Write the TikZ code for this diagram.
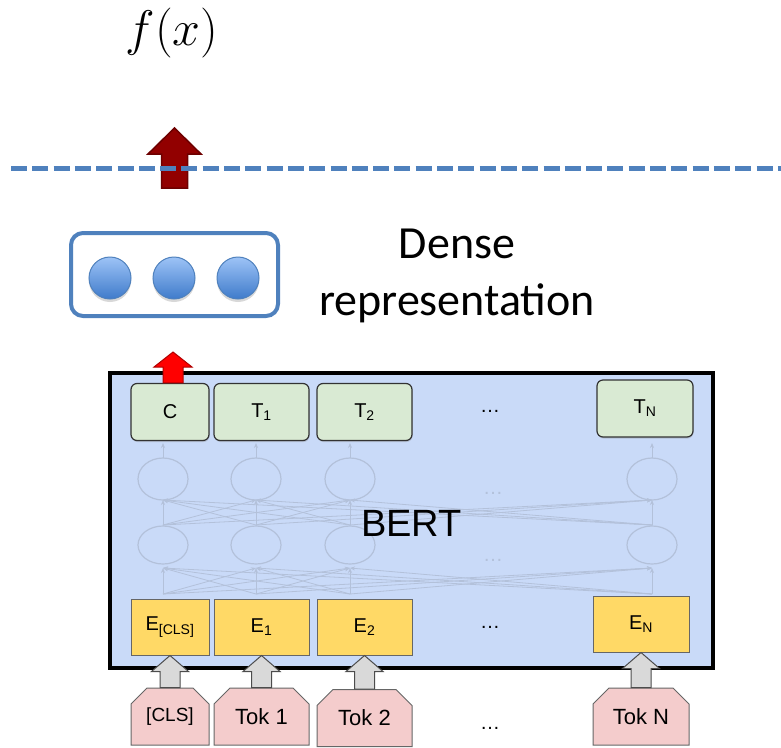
\RequirePackage{fix-cm}
\documentclass[tikz,border=0pt]{standalone}
\usepackage{fontspec}
\setmainfont{Liberation Sans}
\newfontfamily\calibri{Carlito}
\usetikzlibrary{arrows.meta, shapes.geometric, shapes.misc, shadows, calc, positioning}

\definecolor{dashblue}{HTML}{4F81BD}
\definecolor{bertblue}{HTML}{C9DAF8}
\definecolor{outgreen}{HTML}{D9EAD3}
\definecolor{embyellow}{HTML}{FFD966}
\definecolor{tokpink}{HTML}{F4CCCC}
\definecolor{faintgray}{HTML}{B3C1DA}
\definecolor{darkred}{HTML}{920000}
\definecolor{arrowgray}{HTML}{D9D9D9}
\definecolor{circtop}{HTML}{9DC3F6}
\definecolor{circbot}{HTML}{3F7BCB}

% block arrow pointing up: style, bottom, tip, head half width, shaft half width, head length
\newcommand{\blockarrow}[6]{%
  \draw[#1] let \p1=#2, \p2=#3 in
    (\x2,\y2) -- (\x2+#4,\y2-#6) -- (\x2+#5,\y2-#6) -- (\x2+#5,\y1)
    -- (\x2-#5,\y1) -- (\x2-#5,\y2-#6) -- (\x2-#4,\y2-#6) -- cycle;}

\begin{document}
\begin{tikzpicture}[
    x=1pt, y=-1pt,
    sepline/.style={dashblue, line width=5pt, dash pattern=on 16pt off 5.3pt},
    darkarr/.style={fill=darkred, draw=darkred!75!black, line width=1.5pt},
    redarr/.style={fill=red, draw=red!70!black, line width=1pt},
    grayarr/.style={fill=arrowgray, draw=black!70, line width=1pt},
    densebox/.style={rectangle, rounded corners=12pt, draw=dashblue, fill=white,
                     line width=4pt, minimum width=207pt, minimum height=83pt},
    dot/.style={circle, minimum size=42pt, inner sep=0pt, draw=dashblue,
                line width=1pt, top color=circtop, bottom color=circbot,
                drop shadow={opacity=0.3, shadow xshift=0pt, shadow yshift=-3pt}},
    bertbox/.style={rectangle, draw=black, fill=bertblue, line width=4pt,
                    minimum width=603pt, minimum height=295pt},
    hid/.style={ellipse, draw=faintgray, line width=1.2pt, minimum width=50pt},
    faint/.style={faintgray, line width=0.8pt, -{Stealth[length=5pt, width=4pt]}},
    outbox/.style={rectangle, rounded corners=6pt, draw=black!80, fill=outgreen,
                   line width=1.2pt, minimum height=57pt, inner sep=0pt,
                   font=\fontsize{20}{24}\selectfont,
                   drop shadow={opacity=0.3, shadow xshift=0.5pt, shadow yshift=-1.5pt}},
    embbox/.style={rectangle, draw=black!60, fill=embyellow, line width=1pt,
                   minimum height=56pt, inner sep=0pt, font=\fontsize{20}{24}\selectfont},
    tokbox/.style={chamfered rectangle, chamfered rectangle corners={north west, north east},
                   chamfered rectangle xsep=8pt, chamfered rectangle ysep=8pt,
                   draw=black!60, fill=tokpink, line width=1pt, minimum height=57pt,
                   inner sep=0pt, font=\fontsize{22}{26}\selectfont},
    dots/.style={font=\fontsize{20}{24}\selectfont}
  ]
  \useasboundingbox (0,0) rectangle (781,747);

  % output f(x)
  \node[font=\fontsize{50}{54}\selectfont] (fx) at (172,33) {$f(x)$};
  \coordinate (fxin) at (174.5,128);
  \coordinate (denseout) at (174.5,188);
  \blockarrow{darkarr}{(denseout)}{(fxin)}{26.5pt}{13pt}{26pt}

  % separator
  \coordinate (sepl) at (11,168);
  \coordinate (sepr) at (790,168);
  \draw[sepline] (sepl) -- (sepr);

  % dense representation
  \node[densebox] (dense) at (174.5,274.5) {};
  \foreach \i/\x in {1/110, 2/174, 3/238}
    \node[dot] (dot\i) at (\x,278) {};
  \node[font=\calibri\fontsize{46}{57}\selectfont, align=center, anchor=base]
    (denselabel) at (457,315) {Dense\\representation};

  % BERT
  \node[bertbox] (bert) at (411.5,520.5) {};

  % hidden layers
  \foreach \i/\x in {1/163, 2/256, 3/350, 4/652} {
    \node[hid, minimum height=42pt] (up\i) at (\x,479) {};
    \node[hid, minimum height=38pt] (lo\i) at (\x,545) {};
    \coordinate (a\i) at (\x,594);
    \coordinate (b\i) at (\x,568);
    \coordinate (c\i) at (\x,525);
    \coordinate (d\i) at (\x,500);
    \coordinate (e\i) at (\x,458);
    \coordinate (f\i) at (\x,443);
  }
  \foreach \i in {1,...,4} {
    \foreach \j in {1,...,4} {
      \draw[faint] (a\i) -- (b\j);
      \draw[faint] (c\i) -- (d\j);
    }
    \draw[faint] (e\i) -- (f\i);
  }
  \node[dots, text=faintgray] (hdots1) at (493,493) {…};
  \node[dots, text=faintgray] (hdots2) at (493,560) {…};
  \node[font=\fontsize{38}{44}\selectfont] (bertlabel) at (411.5,523) {BERT};

  % output row
  \node[outbox, minimum width=78pt] (c) at (170,412) {C};
  \node[outbox, minimum width=95pt] (t1) at (261.5,412) {T\textsubscript{1}};
  \node[outbox, minimum width=95pt] (t2) at (364.5,412) {T\textsubscript{2}};
  \node[dots] (tdots) at (490,411) {…};
  \node[outbox, minimum width=96pt] (tn) at (645,408.5) {T\textsubscript{N}};

  % embedding row
  \node[embbox, minimum width=78pt] (ecls) at (170,627) {E\textsubscript{[CLS]}};
  \node[embbox, minimum width=95pt] (e1) at (261.5,627) {E\textsubscript{1}};
  \node[embbox, minimum width=95pt] (e2) at (364.5,627) {E\textsubscript{2}};
  \node[dots] (edots) at (490,627) {…};
  \node[embbox, minimum width=96pt] (en) at (641,624) {E\textsubscript{N}};

  % token row
  \node[tokbox, minimum width=78pt, font=\fontsize{19}{23}\selectfont] (tokcls) at (170,716.5) {[CLS]};
  \node[tokbox, minimum width=95pt] (tok1) at (261.5,716.5) {Tok 1};
  \node[tokbox, minimum width=95pt] (tok2) at (364.5,718) {Tok 2};
  \node[dots] (tokdots) at (490,728) {…};
  \node[tokbox, minimum width=96pt] (tokn) at (641,716.5) {Tok N};

  \foreach \t/\e in {tokcls/ecls, tok1/e1, tok2/e2, tokn/en} {
    \blockarrow{grayarr}{(\t.north)}{(\e.south)}{18.5pt}{10pt}{16pt}
  }

  \coordinate (cout) at (173,352);
  \blockarrow{redarr}{(c.north)}{(cout)}{19pt}{10pt}{15pt}
\end{tikzpicture}
\end{document}
